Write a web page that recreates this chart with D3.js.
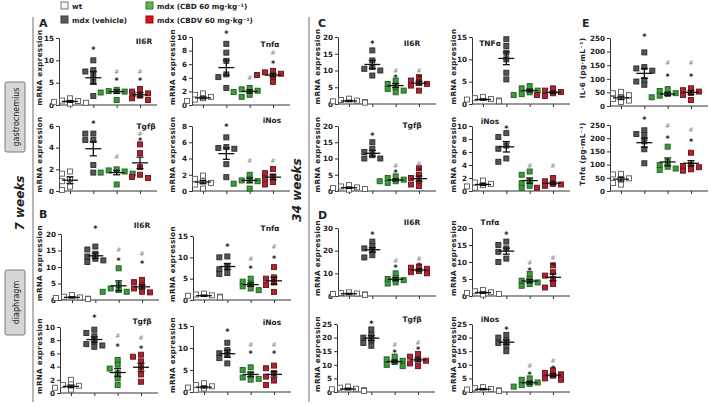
<!DOCTYPE html>
<html><head><meta charset="utf-8">
<script src="https://cdn.jsdelivr.net/npm/d3@7"></script>
<style>body{margin:0;background:#fff}svg{display:block}text{font-family:"DejaVu Sans",Verdana,sans-serif}</style>
</head><body><svg id="c" width="709" height="405"></svg>
<script>
const groups = ["wt","mdx (vehicle)","mdx (CBD 60 mg·kg⁻¹)","mdx (CBDV 60 mg·kg⁻¹)"];
const fills = ["#ffffff","#555555","#3e9b3e","#b3232e"];
const strokes = ["#5a5a5a","#2a2a2a","#1c5c1c","#65111a"];
const legendFills = ["#f4f4f4","#5a5a5a","#5db548","#e21010"];

// ---- Panel A: gastrocnemius, 7 weeks ----
const aIl6rPts = [[1.5,1,0.9,0.7,0.5,0.3],[10,7.8,7.5,6.6,5.2,2],[3.4,3.1,3,2.8,2.4,1.1],[3.6,3,2.6,2.1,1.5,1.1]];
const aIl6rMean = [0.8,6.1,3,2.3], aIl6rSem = [0.2,1.4,0.4,0.5];
const aIl6rStar = [null,12.5,5.4,5.4], aIl6rHash = [null,null,7.6,7.6];
const aIl6rTicks = [0,5,10,15];

const aTnfPts = [[1.7,1.5,1.2,1,0.8,0.6],[9,7.7,6.5,4.5,4.1,2.5],[2.5,2.3,2.1,1.9,1.5,1.2],[5,4.8,4.6,4.4,4.1,3.4]];
const aTnfMean = [1.05,5.5,2,4.4], aTnfSem = [0.15,1.1,0.25,0.25];
const aTnfStar = [null,10.5,null,6.1], aTnfHash = [null,null,4,7.7];
const aTnfTicks = [0,2,4,6,8,10];

const aTgfPts = [[1.8,1.6,1.1,0.9,0.4,0.1],[5.3,5.3,4.7,4.7,2.4,1.7],[2,1.9,1.8,1.7,1.6,0.6],[4.3,3.5,2.2,1.5,1.3,1.2]];
const aTgfMean = [1,3.9,1.7,2.6], aTgfSem = [0.3,0.65,0.2,0.53];
const aTgfStar = [null,6.2,null,4.7], aTgfHash = [null,null,3.2,5.3];
const aTgfTicks = [0,2,4,6];

const aNosPts = [[1.9,1.5,1.2,1,0.8,0.3],[6.6,5.4,5.3,5.2,3.3,1.7],[2,1.4,1.3,1.2,0.9,0.3],[2.7,2.2,1.8,1.5,1.1,0.8]];
const aNosMean = [1.1,4.6,1.3,1.7], aNosSem = [0.2,0.7,0.3,0.3];
const aNosStar = [null,7.9,null,null], aNosHash = [null,null,3.8,3.8];
const aNosTicks = [0,2,4,6,8];

// ---- Panel B: diaphragm, 7 weeks ----
const bIl6rPts = [[1.5,1,0.8,0.6,0.4,0.3],[16.2,15.3,14,13.2,12.5,12,11.5],[9.6,4.6,3.5,3,2.5,2.5],[6.1,5.4,4.5,3.5,2.5,2.3]];
const bIl6rMean = [0.8,13.4,4.3,4], bIl6rSem = [0.2,0.8,1.5,0.6];
const bIl6rStar = [null,21.8,11.9,11.2], bIl6rHash = [null,null,15.2,14.2];
const bIl6rTicks = [0,5,10,15,20];

const bTnfPts = [[1.5,1.3,1.1,1,0.8,0.6],[10.2,10,8,7.2,6.3,6.1],[5,4.3,3.8,3.2,2.7,2.3],[7.7,5.3,5,4.1,3.5,1.9]];
const bTnfMean = [1,7.85,3.6,4.5], bTnfSem = [0.15,0.7,0.4,0.8];
const bTnfStar = [null,12.6,7.3,9.8], bTnfHash = [null,null,9.8,12.5];
const bTnfTicks = [0,5,10,15];

const bTgfPts = [[2,1.3,1.2,1.1,0.8,0.5],[9.6,9.1,8.6,7.8,7.4,7.2,7],[5,4.3,3.7,3,2.2,1.2],[5.8,5.5,4.8,3.9,2.8,1.7]];
const bTgfMean = [1,8.1,3.1,3.9], bTgfSem = [0.2,0.4,0.6,0.6];
const bTgfStar = [null,11.5,7.1,6.8], bTgfHash = [null,null,8.7,8.4];
const bTgfTicks = [0,2,4,6,8,10];

const bNosPts = [[2,1.6,1.3,1,0.8,0.5],[11.2,9.5,8.8,8.4,7.7,6.5],[5.6,5,4,3.3,3,2.8],[6,5.4,4.3,3.5,2.6,1.6]];
const bNosMean = [1.1,8.7,4,4], bNosSem = [0.2,0.8,0.5,0.6];
const bNosStar = [null,13.8,8.8,8.8], bNosHash = [null,null,10.9,10.9];
const bNosTicks = [0,5,10,15];

// ---- Panel C: gastrocnemius, 34 weeks ----
const cIl6rPts = [[1.6,1.2,1,0.8,0.6,0.4],[16,13,11,10.5,10,8.5],[7,6,5,4.5,4,3.5],[8,7,6.5,6,5.5,4]];
const cIl6rMean = [0.9,11.8,5.5,6.2], cIl6rSem = [0.2,1.2,0.6,0.6];
const cIl6rStar = [null,18,8,8], cIl6rHash = [null,null,10,10];
const cIl6rTicks = [0,5,10,15,20];

const cTnfPts = [[1.6,1.3,1.1,1,0.8,0.6],[14.5,13,11.5,10,7,5.5],[4,3.5,3,2.6,2.2,2],[3.5,3,2.7,2.4,2,1.8]];
const cTnfMean = [1,10.2,3,2.6], cTnfSem = [0.15,1.4,0.3,0.25];
const cTnfStar = [null,null,null,null], cTnfHash = [null,null,null,null];
const cTnfTicks = [0,5,10,15];

const cTgfPts = [[1.8,1.4,1.1,0.9,0.6,0.4],[15,13,12,11,10,10],[4.5,4,3.5,3,3,2.5],[7,5,4,3,2,1.5]];
const cTgfMean = [1,11.6,3.4,3.8], cTgfSem = [0.2,0.9,0.3,0.8];
const cTgfStar = [null,17,5.8,6.3], cTgfHash = [null,null,7.8,8.4];
const cTgfTicks = [0,5,10,15,20];

const cNosPts = [[1.6,1.3,1.1,0.9,0.7,0.5],[8.9,8.3,7,6.5,5,4.5],[3,2.5,1.5,1.2,0.8,0.5],[2,1.5,1.1,1,0.8,0.5]];
const cNosMean = [1,6.8,1.6,1.2], cNosSem = [0.15,0.8,0.4,0.2];
const cNosStar = [null,9.6,null,null], cNosHash = [null,null,4,4];
const cNosTicks = [0,2,4,6,8,10];

// ---- Panel D: diaphragm, 34 weeks ----
const dIl6rPts = [[1.6,1.3,1.1,0.9,0.7,0.5],[24,22,21,20,18,17],[10,8,7.5,7,6,5.5],[13,12.5,12,11,10.5,10]];
const dIl6rMean = [1,20.4,7.4,11.5], dIl6rSem = [0.2,1,0.7,0.5];
const dIl6rStar = [null,27,12.5,13.5], dIl6rHash = [null,null,15.5,16.5];
const dIl6rTicks = [0,10,20,30];

const dTnfPts = [[1.8,1.4,1.1,0.9,0.6,0.4],[16,15,14,13,11,10],[6.5,5,4.5,4,3.5,3],[9,7,6,5,3.5,2.5]];
const dTnfMean = [1,13.2,4.4,5.5], dTnfSem = [0.2,0.9,0.5,1];
const dTnfStar = [null,18,7.5,9], dTnfHash = [null,null,9.8,11.3];
const dTnfTicks = [0,5,10,15,20];

const dTgfPts = [[2,1.6,1.2,1,0.7,0.4],[23,21,20,19,18,17],[13,12,11.5,11,10,9.5],[14,13,12,11.5,10.5,9.5]];
const dTgfMean = [1.1,19.8,11.2,11.8], dTgfSem = [0.3,0.9,0.5,0.7];
const dTgfStar = [null,25.3,14.5,15.5], dTgfHash = [null,null,17.3,18.3];
const dTgfTicks = [0,5,10,15,20,25];

const dNosPts = [[1.8,1.4,1.1,0.9,0.6,0.4],[21,20,19,18,17,15],[5,4.5,3.5,3,2.5,2],[8,7,6.5,6,5,4.5]];
const dNosMean = [1,18.3,3.4,6.2], dNosSem = [0.2,0.8,0.5,0.5];
const dNosStar = [null,23,6.5,8.8], dNosHash = [null,null,9.8,11.6];
const dNosTicks = [0,5,10,15,20,25];

// ---- Panel E: serum cytokines ----
const eIl6Pts = [[52,47,40,32,26,20,15],[197,143,138,130,95,90,78],[62,55,47,44,38,32],[65,58,53,48,40,22]];
const eIl6Mean = [30,120,44,50], eIl6Sem = [6,18,5,7];
const eIl6Star = [null,254,108,110], eIl6Hash = [null,null,160,160];
const eIl6Ticks = [0,50,100,150,200,250];

const eTnfPts = [[65,63,48,42,30,24],[230,216,212,188,158,105],[168,110,98,92,85,80],[145,100,95,90,82,77]];
const eTnfMean = [45,183,110,105], eTnfSem = [7,17,15,10];
const eTnfStar = [null,271,200,187], eTnfHash = [null,null,248,233];
const eTnfTicks = [0,50,100,150,200,250];

const mrna = "mRNA expression";
const plots = [
 {pts:aIl6rPts,mean:aIl6rMean,sem:aIl6rSem,star:aIl6rStar,hash:aIl6rHash,ticks:aIl6rTicks,title:"Il6R",ylab:mrna},
 {pts:aTnfPts,mean:aTnfMean,sem:aTnfSem,star:aTnfStar,hash:aTnfHash,ticks:aTnfTicks,title:"Tnfα",ylab:mrna},
 {pts:aTgfPts,mean:aTgfMean,sem:aTgfSem,star:aTgfStar,hash:aTgfHash,ticks:aTgfTicks,title:"Tgfβ",ylab:mrna},
 {pts:aNosPts,mean:aNosMean,sem:aNosSem,star:aNosStar,hash:aNosHash,ticks:aNosTicks,title:"iNos",ylab:mrna},
 {pts:bIl6rPts,mean:bIl6rMean,sem:bIl6rSem,star:bIl6rStar,hash:bIl6rHash,ticks:bIl6rTicks,title:"Il6R",ylab:mrna},
 {pts:bTnfPts,mean:bTnfMean,sem:bTnfSem,star:bTnfStar,hash:bTnfHash,ticks:bTnfTicks,title:"Tnfα",ylab:mrna},
 {pts:bTgfPts,mean:bTgfMean,sem:bTgfSem,star:bTgfStar,hash:bTgfHash,ticks:bTgfTicks,title:"Tgfβ",ylab:mrna},
 {pts:bNosPts,mean:bNosMean,sem:bNosSem,star:bNosStar,hash:bNosHash,ticks:bNosTicks,title:"iNos",ylab:mrna},
 {pts:cIl6rPts,mean:cIl6rMean,sem:cIl6rSem,star:cIl6rStar,hash:cIl6rHash,ticks:cIl6rTicks,title:"Il6R",ylab:mrna},
 {pts:cTnfPts,mean:cTnfMean,sem:cTnfSem,star:cTnfStar,hash:cTnfHash,ticks:cTnfTicks,title:"TNFα",ylab:mrna},
 {pts:cTgfPts,mean:cTgfMean,sem:cTgfSem,star:cTgfStar,hash:cTgfHash,ticks:cTgfTicks,title:"Tgfβ",ylab:mrna},
 {pts:cNosPts,mean:cNosMean,sem:cNosSem,star:cNosStar,hash:cNosHash,ticks:cNosTicks,title:"iNos",ylab:mrna},
 {pts:dIl6rPts,mean:dIl6rMean,sem:dIl6rSem,star:dIl6rStar,hash:dIl6rHash,ticks:dIl6rTicks,title:"Il6R",ylab:mrna},
 {pts:dTnfPts,mean:dTnfMean,sem:dTnfSem,star:dTnfStar,hash:dTnfHash,ticks:dTnfTicks,title:"Tnfα",ylab:mrna},
 {pts:dTgfPts,mean:dTgfMean,sem:dTgfSem,star:dTgfStar,hash:dTgfHash,ticks:dTgfTicks,title:"Tgfβ",ylab:mrna},
 {pts:dNosPts,mean:dNosMean,sem:dNosSem,star:dNosStar,hash:dNosHash,ticks:dNosTicks,title:"iNos",ylab:mrna},
 {pts:eIl6Pts,mean:eIl6Mean,sem:eIl6Sem,star:eIl6Star,hash:eIl6Hash,ticks:eIl6Ticks,title:"",ylab:"IL-6 (pg·mL⁻¹)"},
 {pts:eTnfPts,mean:eTnfMean,sem:eTnfSem,star:eTnfStar,hash:eTnfHash,ticks:eTnfTicks,title:"",ylab:"Tnfα (pg·mL⁻¹)"}
];
// layout (pixel positions): axis x, zero y, top-tick y, title x, title y, label x
const layout = [
 [59,105,38,144,44,42],[192,105,37,270,47,175],[59,191,126,146,129,42],[192,191,126,272,123,175],
 [61,300,234,142,228,42],[193,300,236,270,231,175],[60,393,327,142,324,42],[193,392,326,272,325,175],
 [338,104,37,412,46,320],[472,104,37,490,46,456],[338,191,126,412,128,320],[472,191,126,490,124,456],
 [338,296,228,412,225,320],[472,296,228,490,225,456],[337,392,324,412,322,320],[472,392,324,490,322,456],
 [610,106,38,0,0,585],[610,191,125,0,0,585]
];

const svg = d3.select("#c");
const axisCol = "#333";

function swarm(vals, y, size){
  const placed = [];
  const order = vals.map((v,i)=>i).sort((a,b)=>vals[b]-vals[a]);
  const off = new Array(vals.length).fill(0);
  order.forEach(i=>{
    const py = y(vals[i]);
    for (let k=0;k<9;k++){
      const cand = k===0?0:(k%2?-1:1)*Math.ceil(k/2)*size*0.8;
      const ok = placed.every(p=>Math.abs(p.x-cand) >= size*0.9 || Math.abs(p.y-py) >= size*0.9);
      if (ok || k===8){ off[i]=cand; placed.push({x:cand,y:py}); break; }
    }
  });
  return off;
}

plots.forEach((p,pi)=>{
  const [ax,y0,yT,tx,ty,lx] = layout[pi];
  const g = svg.append("g");
  const max = p.ticks[p.ticks.length-1];
  const y = d3.scaleLinear().domain([0,max]).range([y0,yT]);
  const x = d3.scalePoint().domain(d3.range(4)).range([ax+11, ax+81]);
  const ya = g.append("g").attr("transform",`translate(${ax},0)`)
    .call(d3.axisLeft(y).tickValues(p.ticks).tickSize(3).tickSizeOuter(0).tickPadding(2).tickFormat(d3.format("d")));
  ya.selectAll("path,line").attr("stroke",axisCol).attr("stroke-width",1);
  ya.selectAll("text").attr("font-size",7.2).attr("font-weight","bold").attr("fill","#222").attr("font-family","DejaVu Sans");
  const xa = g.append("g").attr("transform",`translate(0,${y0})`)
    .call(d3.axisBottom(x).tickSize(3).tickSizeOuter(0).tickFormat(""));
  xa.select("path").remove();
  xa.selectAll("line").attr("stroke",axisCol);
  g.append("line").attr("x1",ax).attr("x2",ax+98).attr("y1",y0).attr("y2",y0).attr("stroke",axisCol);
  g.append("text").attr("transform",`translate(${lx},${(y0+yT)/2-4}) rotate(-90)`)
    .attr("text-anchor","middle").attr("font-size",7.2).attr("font-weight","bold").attr("fill","#222")
    .attr("letter-spacing",0.3).text(p.ylab);
  if (p.title) g.append("text").attr("x",tx).attr("y",ty).attr("text-anchor","middle")
    .attr("font-size",7.5).attr("font-weight","bold").attr("fill","#222").text(p.title);
  const sz = 5;
  p.pts.forEach((vals,gi)=>{
    const off = swarm(vals,y,sz);
    g.selectAll(null).data(vals).enter().append("rect")
      .attr("x",(d,i)=>x(gi)+off[i]-sz/2).attr("y",d=>y(d)-sz/2)
      .attr("width",sz).attr("height",sz)
      .attr("fill",fills[gi]).attr("stroke",strokes[gi]).attr("stroke-width",0.9);
    const cx = x(gi), m = p.mean[gi], s = p.sem[gi];
    g.append("line").attr("x1",cx-8).attr("x2",cx+8).attr("y1",y(m)).attr("y2",y(m)).attr("stroke","#111").attr("stroke-width",1.3);
    g.append("line").attr("x1",cx).attr("x2",cx).attr("y1",y(m+s)).attr("y2",y(m-s)).attr("stroke","#111").attr("stroke-width",1.3);
    [m+s,m-s].forEach(v=>g.append("line").attr("x1",cx-3.5).attr("x2",cx+3.5).attr("y1",y(v)).attr("y2",y(v)).attr("stroke","#111").attr("stroke-width",1.3));
    if (p.star[gi]!=null) g.append("text").attr("x",cx).attr("y",y(p.star[gi])+3.5).attr("text-anchor","middle")
      .attr("font-size",8).attr("font-weight","bold").attr("fill","#222").text("*");
    if (p.hash[gi]!=null) g.append("text").attr("x",cx).attr("y",y(p.hash[gi])+2.5).attr("text-anchor","middle")
      .attr("font-size",6.5).attr("fill","#888").text("#");
  });
});

[33,309].forEach(xx=>svg.append("line").attr("x1",xx).attr("x2",xx).attr("y1",17).attr("y2",402).attr("stroke","#888").attr("stroke-width",1.2));

[["A",39,27],["B",39,218],["C",318,27],["D",318,219],["E",582,27]].forEach(([t,xx,yy])=>
  svg.append("text").attr("x",xx).attr("y",yy).attr("font-size",11).attr("font-weight","bold").attr("fill","#222").text(t));

const legPos = [[61,2],[61,16],[146,2],[146,16]];
groups.forEach((gname,i)=>{
  const [lx,ly] = legPos[i];
  svg.append("rect").attr("x",lx).attr("y",ly).attr("width",7).attr("height",7)
    .attr("fill",legendFills[i]).attr("stroke",i===0?"#777":d3.color(legendFills[i]).darker(1.2)).attr("stroke-width",1);
  svg.append("text").attr("x",lx+11).attr("y",ly+7).attr("font-size",7.2).attr("font-weight","bold").attr("fill","#222").text(gname);
});

const sideBoxes = [["gastrocnemius",82,152],["diaphragm",270,335]];
sideBoxes.forEach(([t,a,b])=>{
  svg.append("rect").attr("x",5).attr("y",a).attr("width",20).attr("height",b-a).attr("rx",2)
    .attr("fill","#d6d6d6").attr("stroke","#7a7a7a").attr("stroke-width",1);
  svg.append("text").attr("transform",`translate(18.5,${(a+b)/2}) rotate(-90)`).attr("text-anchor","middle")
    .attr("font-size",8).attr("fill","#222").text(t);
});
svg.append("text").attr("transform","translate(24,203) rotate(-90)").attr("text-anchor","middle")
  .attr("font-size",12).attr("font-weight","bold").attr("font-style","italic").attr("fill","#222").text("7 weeks");
svg.append("text").attr("transform","translate(301,190) rotate(-90)").attr("text-anchor","middle")
  .attr("font-size",12).attr("font-weight","bold").attr("font-style","italic").attr("fill","#222").text("34 weeks");
</script></body></html>
